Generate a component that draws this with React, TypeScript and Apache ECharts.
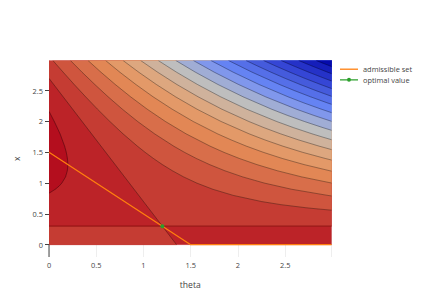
import React, { useEffect, useRef } from "react";
import * as echarts from "echarts";

const XMAX = 2.99;
const YMAX = 2.99;
const YMIN = -0.2;

const thetaTicks = [0, 0.5, 1, 1.5, 2, 2.5];
const xTicks = [0, 0.5, 1, 1.5, 2, 2.5];

// band fill colours, index 0 = highest level (left bump) ... last = top-right corner
const bandColors = [
  "rgb(180,14,30)",
  "rgb(188,35,40)",
  "rgb(197,60,51)",
  "rgb(207,85,62)",
  "rgb(216,110,74)",
  "rgb(226,135,85)",
  "rgb(227,153,104)",
  "rgb(221,167,127)",
  "rgb(207,178,156)",
  "rgb(190,190,190)",
  "rgb(160,173,213)",
  "rgb(128,151,236)",
  "rgb(101,131,243)",
  "rgb(85,111,232)",
  "rgb(69,91,220)",
  "rgb(53,70,213)",
  "rgb(37,50,200)",
  "rgb(21,30,186)",
  "rgb(5,10,172)",
];

// contour lines [theta, x], from top edge to right edge; curve i bounds band i+3 (above-right of it)
const contourCurves: number[][][] = [
  [[0.041, 2.99], [0.15, 2.8], [0.267, 2.6], [0.388, 2.4], [0.513, 2.2], [0.644, 2.0], [0.783, 1.8], [0.935, 1.6], [1.017, 1.5], [1.105, 1.4], [1.2, 1.3], [1.306, 1.2], [1.425, 1.1], [1.564, 1.0], [1.733, 0.9], [1.95, 0.8], [2.25, 0.7], [2.454, 0.65], [2.717, 0.6], [2.846, 0.58], [2.99, 0.56]],
  [[0.227, 2.99], [0.35, 2.8], [0.485, 2.6], [0.626, 2.4], [0.776, 2.2], [0.938, 2.0], [1.117, 1.8], [1.319, 1.6], [1.433, 1.5], [1.559, 1.4], [1.7, 1.3], [1.861, 1.2], [2.05, 1.1], [2.279, 1.0], [2.567, 0.9], [2.95, 0.8], [2.99, 0.791]],
  [[0.413, 2.99], [0.55, 2.8], [0.702, 2.6], [0.864, 2.4], [1.039, 2.2], [1.232, 2.0], [1.45, 1.8], [1.704, 1.6], [1.85, 1.5], [2.014, 1.4], [2.2, 1.3], [2.417, 1.2], [2.675, 1.1], [2.99, 1.001]],
  [[0.599, 2.99], [0.75, 2.8], [0.92, 2.6], [1.102, 2.4], [1.303, 2.2], [1.526, 2.0], [1.783, 1.8], [1.929, 1.7], [2.088, 1.6], [2.267, 1.5], [2.468, 1.4], [2.7, 1.3], [2.972, 1.2], [2.99, 1.194]],
  [[0.784, 2.99], [0.95, 2.8], [1.137, 2.6], [1.34, 2.4], [1.566, 2.2], [1.821, 2.0], [2.117, 1.8], [2.286, 1.7], [2.473, 1.6], [2.683, 1.5], [2.923, 1.4], [2.99, 1.374]],
  [[0.97, 2.99], [1.15, 2.8], [1.354, 2.6], [1.579, 2.4], [1.829, 2.2], [2.115, 2.0], [2.275, 1.9], [2.45, 1.8], [2.643, 1.7], [2.858, 1.6], [2.99, 1.544]],
  [[1.156, 2.99], [1.35, 2.8], [1.572, 2.6], [1.817, 2.4], [2.092, 2.2], [2.409, 2.0], [2.588, 1.9], [2.783, 1.8], [2.889, 1.75], [2.99, 1.704]],
  [[1.342, 2.99], [1.55, 2.8], [1.789, 2.6], [2.055, 2.4], [2.355, 2.2], [2.522, 2.1], [2.703, 2.0], [2.9, 1.9], [2.99, 1.857]],
  [[1.528, 2.99], [1.75, 2.8], [2.007, 2.6], [2.293, 2.4], [2.618, 2.2], [2.8, 2.1], [2.99, 2.003]],
  [[1.714, 2.99], [1.95, 2.8], [2.224, 2.6], [2.531, 2.4], [2.7, 2.3], [2.882, 2.2], [2.99, 2.144]],
  [[1.9, 2.99], [2.15, 2.8], [2.441, 2.6], [2.6, 2.5], [2.769, 2.4], [2.95, 2.3], [2.99, 2.279]],
  [[2.085, 2.99], [2.208, 2.9], [2.35, 2.8], [2.5, 2.7], [2.659, 2.6], [2.827, 2.5], [2.99, 2.409]],
  [[2.271, 2.99], [2.4, 2.9], [2.55, 2.8], [2.708, 2.7], [2.876, 2.6], [2.99, 2.535]],
  [[2.457, 2.99], [2.592, 2.9], [2.75, 2.8], [2.917, 2.7], [2.99, 2.658]],
  [[2.643, 2.99], [2.785, 2.9], [2.95, 2.8], [2.99, 2.777]],
  [[2.829, 2.99], [2.894, 2.95], [2.977, 2.9], [2.99, 2.892]],
];

const bumpCurve = [[0, 2.163], [0.005, 2.15], [0.022, 2.1], [0.056, 2.0], [0.117, 1.8], [0.165, 1.6], [0.183, 1.5], [0.195, 1.4], [0.2, 1.3], [0.194, 1.2], [0.175, 1.1], [0.136, 1.0], [0.106, 0.95], [0.067, 0.9], [0.016, 0.85], [0, 0.837]];
const diagonal = [[0, 2.7], [1.2, 0.3], [1.35, 0]];
const splitLevelX = 0.3;

const admissible = [[0, 1.5], [1.5, 0], [2.99, 0]];
const optimal = [[1.2, 0.3]];

export default function App() {
  const ref = useRef<HTMLDivElement>(null);
  useEffect(() => {
    if (!ref.current) return;
    const chart = echarts.init(ref.current, undefined, { renderer: "svg" });

    const polys: { pts: number[][]; fill: string }[] = [];
    polys.push({ pts: [[0, 0], [XMAX, 0], [XMAX, YMAX], [0, YMAX]], fill: bandColors[1] });
    const diagBelow = diagonal.filter((p) => p[1] <= splitLevelX);
    const diagAbove = diagonal.filter((p) => p[1] >= splitLevelX);
    polys.push({ pts: [[0, 0], ...diagBelow.slice().reverse(), [0, splitLevelX]], fill: bandColors[2] });
    polys.push({ pts: [...diagAbove.slice().reverse(), [0, YMAX], [XMAX, YMAX], [XMAX, splitLevelX]], fill: bandColors[2] });
    contourCurves.forEach((c, i) => {
      polys.push({ pts: [...c, [XMAX, YMAX]], fill: bandColors[i + 3] });
    });
    polys.push({ pts: bumpCurve, fill: bandColors[0] });

    const lines: { pts: number[][]; stroke: string; width: number }[] = [];
    contourCurves.forEach((c) => lines.push({ pts: c, stroke: "rgba(0,0,0,0.6)", width: 0.55 }));
    lines.push({ pts: bumpCurve, stroke: "rgba(0,0,0,0.6)", width: 0.55 });
    lines.push({ pts: diagonal, stroke: "rgba(0,0,0,0.6)", width: 0.55 });
    lines.push({ pts: [[0, splitLevelX], [XMAX, splitLevelX]], stroke: "rgba(110,0,0,0.35)", width: 1.8 });

    const font = "'Open Sans', verdana, arial, sans-serif";

    chart.setOption({
      animation: false,
      grid: { left: 49, top: 60.5, width: 282.5, height: 196.5, containLabel: false },
      xAxis: {
        type: "value",
        min: 0,
        max: XMAX,
        interval: 0.5,
        name: "theta",
        nameLocation: "middle",
        nameGap: 23,
        nameTextStyle: { fontFamily: font, fontSize: 8.6, color: "#444" },
        axisLine: { show: false },
        axisTick: { show: false },
        axisLabel: {
          margin: 4,
          fontFamily: font,
          fontSize: 7.4,
          color: "#444",
          customValues: thetaTicks,
          formatter: (v: number) => String(v),
        },
        splitLine: { show: true, lineStyle: { color: "#eee", width: 1 } },
      },
      yAxis: {
        type: "value",
        min: YMIN,
        max: YMAX,
        name: "x",
        nameLocation: "middle",
        nameGap: 22,
        nameTextStyle: { fontFamily: font, fontSize: 8.6, color: "#444" },
        axisLine: { show: false },
        axisTick: { show: true, length: 4, lineStyle: { color: "#444" }, customValues: xTicks },
        axisLabel: {
          margin: 6,
          fontFamily: font,
          fontSize: 7.4,
          color: "#444",
          customValues: xTicks,
          formatter: (v: number) => String(v),
        },
        splitLine: { show: false },
      },
      legend: {
        orient: "vertical",
        left: 340,
        top: 65.7,
        padding: 0,
        itemWidth: 18,
        itemHeight: 8,
        itemGap: 3.6,
        textStyle: { fontFamily: font, fontSize: 7.4, color: "#444" },
        data: [
          { name: "admissible set", icon: "path://M0,0L18,0L18,1.3L0,1.3Z" },
          { name: "optimal value", icon: "path://M0,3.35L18,3.35L18,4.65L0,4.65Z M7,4A2,2 0 1 1 11,4A2,2 0 1 1 7,4Z" },
        ],
      },
      series: [
        {
          type: "custom",
          coordinateSystem: "cartesian2d",
          clip: true,
          silent: true,
          z: 1,
          data: polys.map((_, i) => [0, 0, i]),
          renderItem: (params: any, api: any) => {
            const p = polys[params.dataIndex];
            return {
              type: "polygon",
              shape: { points: p.pts.map((q) => api.coord(q)) },
              style: { fill: p.fill, stroke: p.fill, lineWidth: 0.3 },
            };
          },
        },
        {
          type: "custom",
          coordinateSystem: "cartesian2d",
          clip: true,
          silent: true,
          z: 2,
          data: lines.map((_, i) => [0, 0, i]),
          renderItem: (params: any, api: any) => {
            const l = lines[params.dataIndex];
            return {
              type: "polyline",
              shape: { points: l.pts.map((q) => api.coord(q)), smooth: 0 },
              style: { fill: null, stroke: l.stroke, lineWidth: l.width },
            };
          },
        },
        {
          type: "line",
          data: [[0, YMIN], [0, 0]],
          symbol: "none",
          silent: true,
          z: 2,
          lineStyle: { color: "#444", width: 1 },
        },
        {
          name: "admissible set",
          type: "line",
          data: admissible,
          symbol: "none",
          clip: false,
          z: 3,
          color: "#ff7f0e",
          lineStyle: { color: "#ff7f0e", width: 1.3 },
        },
        {
          name: "optimal value",
          type: "line",
          data: optimal,
          symbol: "circle",
          symbolSize: 4,
          z: 4,
          color: "#2ca02c",
          itemStyle: { color: "#2ca02c" },
          lineStyle: { color: "#2ca02c", width: 1.3 },
        },
      ],
    });
    return () => chart.dispose();
  }, []);
  return <div ref={ref} style={{ position: "absolute", left: 0, top: 0, width: 428, height: 307 }} />;
}
